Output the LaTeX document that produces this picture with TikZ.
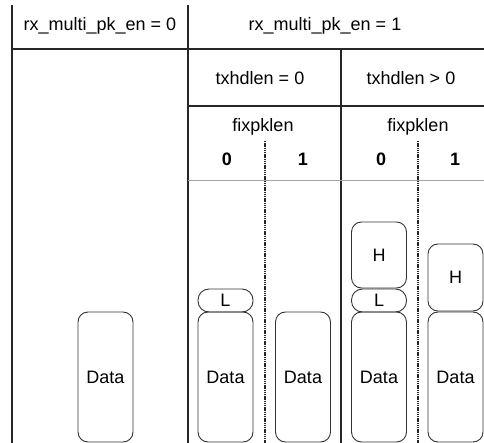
\documentclass[tikz,border=0pt]{standalone}
\usepackage{fontspec}
\setmainfont{Liberation Sans}
\usepackage{tikz}
\usetikzlibrary{positioning}

\begin{document}
\begin{tikzpicture}[x=1pt, y=-1pt,
  font=\fontsize{18}{21}\selectfont,
  rule/.style={line width=1.6pt, draw=black!85},
  sep/.style={line width=1.2pt, draw=black!85},
  thin/.style={line width=1pt, draw=black!35},
  dots/.style={line width=1.8pt, draw=black!85, dash pattern=on 1.4pt off 0.8pt},
  databox/.style={draw=black!80, line width=0.9pt, rounded corners=10pt, minimum width=55pt, minimum height=130pt, inner sep=0pt},
  lenbox/.style={draw=black!80, line width=0.9pt, rounded corners=11pt, minimum width=55pt, minimum height=23pt, inner sep=0pt},
  hdrbox/.style={draw=black!80, line width=0.9pt, rounded corners=10pt, minimum width=55pt, minimum height=67pt, inner sep=0pt}]
\useasboundingbox (0,0) rectangle (484,443);
\coordinate (TL) at (12,5);
\coordinate (TM) at (188,5);
\coordinate (BL) at (12,443);
\coordinate (BM) at (188,443);
\coordinate (R1) at (484,49);
\coordinate (L1) at (12,49);
\coordinate (C1) at (341,49);
\coordinate (C2) at (341,443);
\coordinate (M2) at (188,106);
\coordinate (R2) at (484,106);
\coordinate (M3) at (188,181);
\coordinate (R3) at (484,181);
\coordinate (D1) at (265,141);
\coordinate (D2) at (265,443);
\coordinate (D3) at (418,141);
\coordinate (D4) at (418,443);
% table lines
\draw[rule] (TL) -- (BL);
\draw[rule] (TM) -- (BM);
\draw[rule] (C1) -- (C2);
\draw[sep] (L1) -- (R1);
\draw[sep] (M2) -- (R2);
\draw[thin] (M3) -- (R3);
\draw[dots] (D1) -- (D2);
\draw[dots] (D3) -- (D4);
% headings
\node (en0) at (100,26) {rx\_multi\_pk\_en = 0};
\node (en1) at (325,26) {rx\_multi\_pk\_en = 1};
\node (hd0) at (260,78) {txhdlen = 0};
\node (hd1) at (411,78) {txhdlen > 0};
\node (fix0) at (263,127) {fixpklen};
\node (fix1) at (418,127) {fixpklen};
\node[font=\fontsize{18}{21}\selectfont\bfseries] (f00) at (227,159) {0};
\node[font=\fontsize{18}{21}\selectfont\bfseries] (f01) at (303,159) {1};
\node[font=\fontsize{18}{21}\selectfont\bfseries] (f10) at (381,159) {0};
\node[font=\fontsize{18}{21}\selectfont\bfseries] (f11) at (455,159) {1};
% packets
\node[databox] (data1) at (105.5,377) {Data};
\node[databox] (data2) at (225.5,377) {Data};
\node[lenbox] (len2) at (225.5,300.5) {L};
\node[databox] (data3) at (303,377) {Data};
\node[databox] (data4) at (379,377) {Data};
\node[lenbox] (len4) at (379,300.5) {L};
\node[hdrbox, minimum height=66pt] (hdr4) at (379,255) {H};
\node[databox] (data5) at (455.5,377) {Data};
\node[hdrbox] (hdr5) at (455.5,277.5) {H};
\end{tikzpicture}
\end{document}
